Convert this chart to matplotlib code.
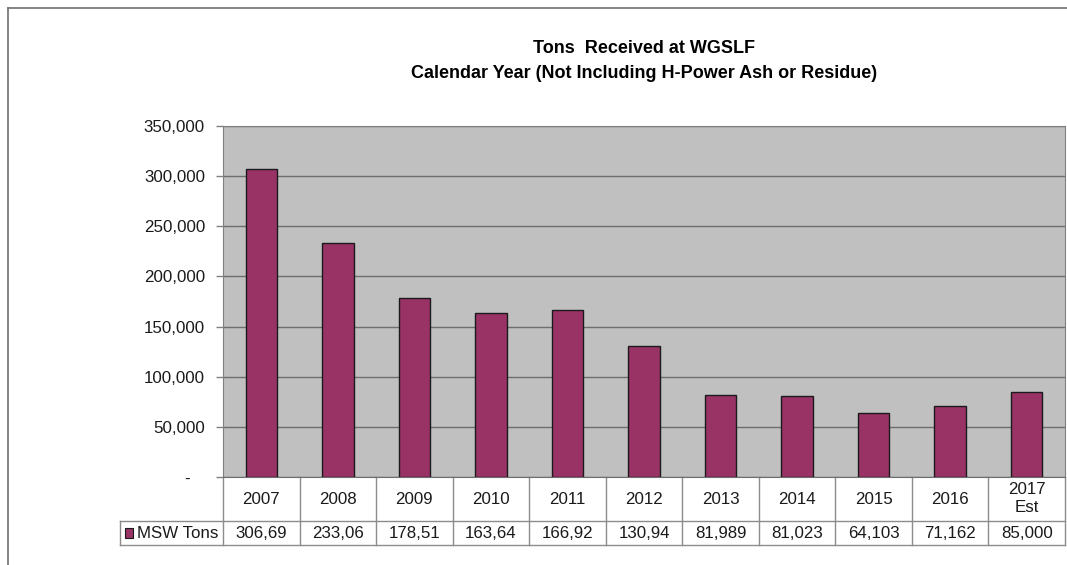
import matplotlib

matplotlib.use("Agg")
import matplotlib.pyplot as plt
from matplotlib.lines import Line2D
from matplotlib.patches import Rectangle
from matplotlib.ticker import FuncFormatter

plt.rcParams["font.family"] = ["Liberation Sans", "DejaVu Sans"]

# ---- data ---------------------------------------------------------------- #
years = ["2007", "2008", "2009", "2010", "2011", "2012",
         "2013", "2014", "2015", "2016", "2017\nEst"]
msw_tons = [306690, 233060, 178510, 163640, 166920, 130940,
            81989, 81023, 64103, 71162, 85000]
series_name = "MSW Tons"
yticks = [0, 50000, 100000, 150000, 200000, 250000, 300000, 350000]

BAR = "#993366"
GRID = "#808080"
CELL = "#8c8c8c"
TXT = "#1a1a1a"
FS = 12.2

W, H = 1067, 565
fig = plt.figure(figsize=(W / 100, H / 100), dpi=100)

# plot area in pixel coords
x0, x1, ytop, ybot = 223, 1065, 126, 477
ax = fig.add_axes([x0 / W, (H - ybot) / H, (x1 - x0) / W, (ybot - ytop) / H])
ax.set_facecolor("#c0c0c0")

xs = range(len(years))
ax.bar(xs, msw_tons, width=0.41, color=BAR, edgecolor=TXT, linewidth=1, zorder=3)
ax.set_xlim(-0.5, len(years) - 0.5)
ax.set_ylim(0, 350000)
ax.set_yticks(yticks)
ax.yaxis.set_major_formatter(FuncFormatter(lambda v, _: "-   " if v == 0 else f"{v:,.0f}"))
ax.grid(axis="y", color="#6e6e6e", lw=1, zorder=1)
ax.set_xticks([])
ax.tick_params(axis="y", length=5, width=1, color=GRID, labelsize=FS, pad=8, labelcolor=TXT)
for side in ["top", "right", "left"]:
    ax.spines[side].set_color(GRID)
ax.spines["bottom"].set_color("#6e6e6e")

# ---- data table below plot ---------------------------------------------- #
tr = ax.get_xaxis_transform()
h_row1 = -(521 - ybot) / (ybot - ytop)
h_row2 = -(545 - ybot) / (ybot - ytop)
leg_left = -0.5 - (x0 - 120) / ((x1 - x0) / len(years))

def hline(xa, xb, y):
    ax.add_line(Line2D([xa, xb], [y, y], transform=tr, color=CELL, lw=1, clip_on=False))

def vline(x, ya, yb):
    ax.add_line(Line2D([x, x], [ya, yb], transform=tr, color=CELL, lw=1, clip_on=False))

hline(-0.5, len(years) - 0.5, h_row1)
hline(leg_left, -0.5, h_row1)
hline(leg_left, len(years) - 0.5, h_row2)
for i in range(len(years) + 1):
    vline(i - 0.5, 0, h_row2)
vline(leg_left, h_row1, h_row2)

for i, (yr, v) in enumerate(zip(years, msw_tons)):
    ax.text(i, (0 + h_row1) / 2, yr, transform=tr, ha="center", va="center",
            fontsize=FS, color=TXT, linespacing=1.25)
    ax.text(i, (h_row1 + h_row2) / 2, f"{v:,}"[:6], transform=tr, ha="center",
            va="center", fontsize=FS, color=TXT)

# legend key in the table
ax.add_patch(Rectangle((leg_left + 0.06, (h_row1 + h_row2) / 2 - 0.014), 0.11, 0.028,
                       transform=tr, facecolor=BAR, edgecolor=TXT, lw=0.8,
                       clip_on=False))
ax.text(leg_left + 0.22, (h_row1 + h_row2) / 2, series_name, transform=tr,
        ha="left", va="center", fontsize=FS, color=TXT)

# ---- title ----------------------------------------------------------------- #
fig.text((x0 + x1) / 2 / W, 1 - 61 / H,
         "Tons  Received at WGSLF\nCalendar Year (Not Including H-Power Ash or Residue)",
         ha="center", va="center", fontsize=13, fontweight="bold", linespacing=1.65)

# outer chart border
fig.add_artist(Line2D([8 / W, 1], [1 - 8 / H, 1 - 8 / H], transform=fig.transFigure,
                      color="#707070", lw=1.2))
fig.add_artist(Line2D([8 / W, 8 / W], [0, 1 - 8 / H], transform=fig.transFigure,
                      color="#707070", lw=1.2))

fig.savefig("out.png", dpi=100)
